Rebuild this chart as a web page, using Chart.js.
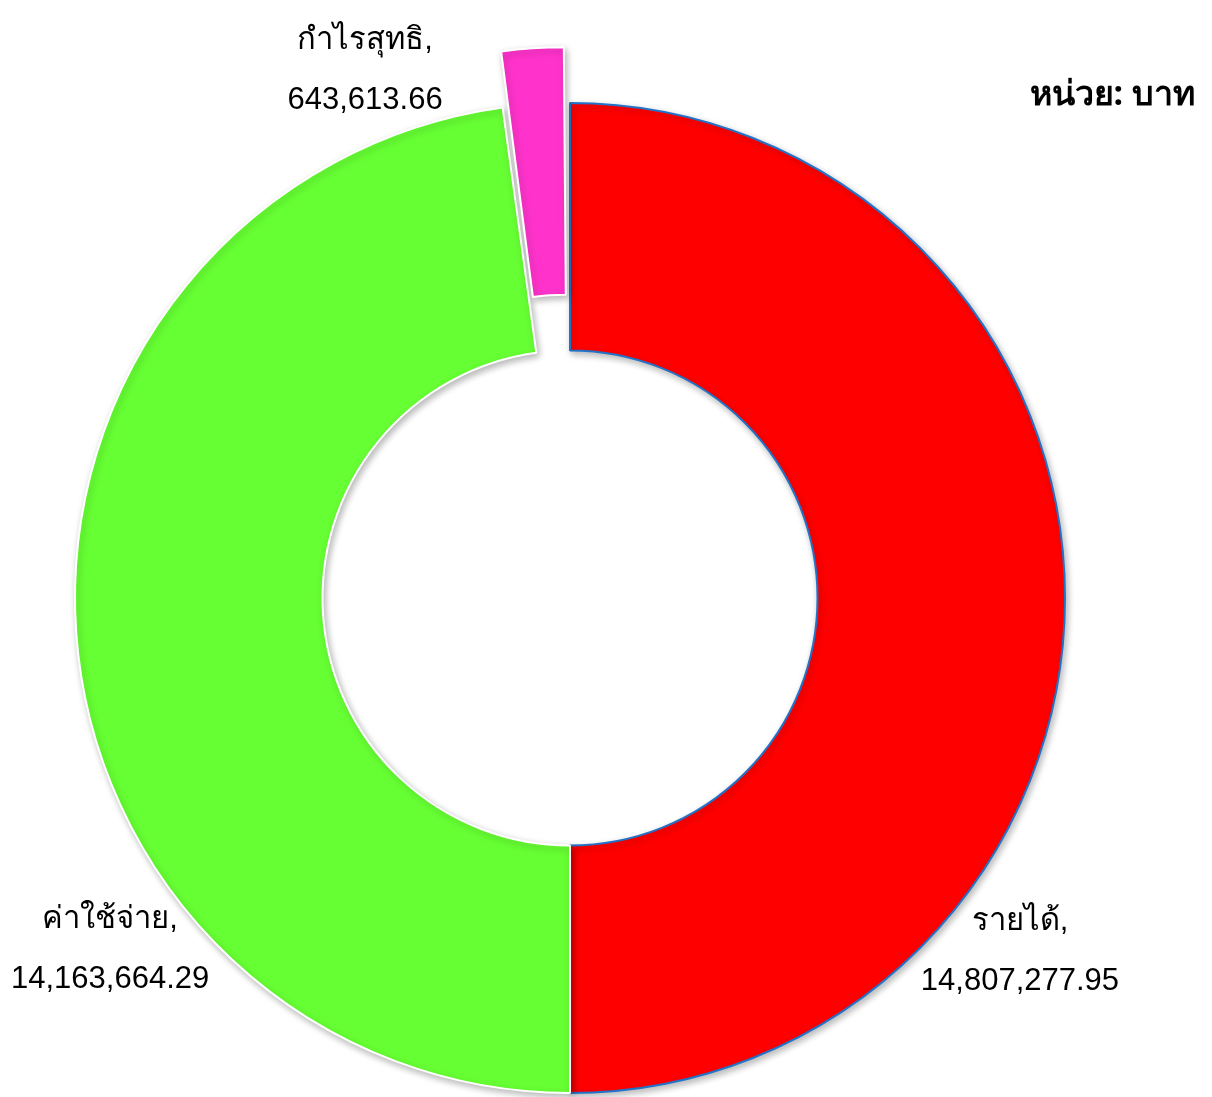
<!DOCTYPE html>
<html>
<head>
<meta charset="utf-8">
<script src="https://cdn.jsdelivr.net/npm/chart.js@4"></script>
<style>
  html, body { margin: 0; padding: 0; background: #fff; overflow: hidden; }
  #wrap { position: absolute; left: 0; top: 0; width: 1212px; height: 1200px; }
  #unit { position: absolute; right: 17px; top: 66px; font: bold 34px Tahoma, "Noto Sans", sans-serif; color: #000; }
</style>
</head>
<body>
<div id="wrap"><canvas id="chart" width="1212" height="1200"></canvas></div>
<div id="unit">หน่วย: บาท</div>
<script>
const labels = ["รายได้", "ค่าใช้จ่าย", "กำไรสุทธิ"];
const values = [14807277.95, 14163664.29, 643613.66];
const colors = ["#ff0000", "#66ff33", "#ff33cc"];
const borders = ["#2272c8", "#ffffff", "#ffffff"];
const offsets = [0, 0, 120];

const fmt = v => v.toLocaleString("en-US", { minimumFractionDigits: 2, maximumFractionDigits: 2 });

// where each data label sits, as a fraction of the outer radius from the centre
const labelPlugin = {
    id: "sliceLabels",
    afterDatasetsDraw(chart, args, opts) {
        const ctx = chart.ctx;
        const meta = chart.getDatasetMeta(0);
        ctx.save();
        ctx.font = "31px Arial, 'Liberation Sans', Tahoma, sans-serif";
        ctx.fillStyle = "#000";
        ctx.textAlign = "center";
        ctx.textBaseline = "middle";
        meta.data.forEach((arc, i) => {
            const p = opts.pos[i];
            const x = arc.x + p[0] * arc.outerRadius;
            const y = arc.y + p[1] * arc.outerRadius;
            ctx.fillText(labels[i] + ",", x, y - 30);
            ctx.fillText(fmt(values[i]), x, y + 30);
        });
        ctx.restore();
    }
};

const shadowPlugin = {
    id: "sliceShadow",
    beforeDatasetDraw(chart) {
        const ctx = chart.ctx;
        ctx.save();
        ctx.shadowColor = "rgba(0,0,0,0.28)";
        ctx.shadowBlur = 7;
        ctx.shadowOffsetX = 2;
        ctx.shadowOffsetY = 3;
    },
    afterDatasetDraw(chart) {
        chart.ctx.restore();
    }
};

new Chart(document.getElementById("chart").getContext("2d"), {
    type: "doughnut",
    data: {
        labels: labels,
        datasets: [{
            data: values,
            backgroundColor: colors,
            borderColor: borders,
            borderWidth: 2,
            offset: offsets,
            hoverOffset: 0
        }]
    },
    options: {
        responsive: false,
        animation: false,
        cutout: "50%",
        layout: { padding: { left: 14, top: 42, right: 86, bottom: 46 } },
        plugins: {
            legend: { display: false },
            tooltip: { enabled: false },
            sliceLabels: { pos: [[0.909, 0.714], [-0.929, 0.711], [-0.414, -1.066]] }
        }
    },
    plugins: [shadowPlugin, labelPlugin]
});
</script>
</body>
</html>
